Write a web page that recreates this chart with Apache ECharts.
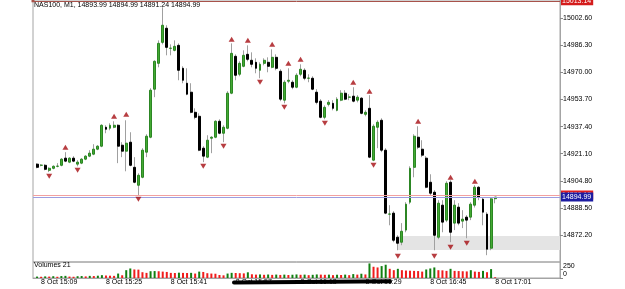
<!DOCTYPE html>
<html>
<head>
<meta charset="utf-8">
<script src="https://cdn.jsdelivr.net/npm/echarts@6/dist/echarts.min.js"></script>
<style>
  html, body { margin: 0; padding: 0; background: #fff; }
  #chart { width: 625px; height: 289px; }
</style>
</head>
<body>
<div id="chart"></div>
<script>
// NAS100 M1, 8 Oct 15:08 - 17:01
const symbol = 'NAS100';
const period = 'M1';
const day = '8 Oct';
const firstMinute = 15 * 60 + 7;   // one empty slot before the first bar
const slotCount = 131;             // bars + empty space on the right

const opens = [
  14914.8, 14914.1, 14914.1, 14911.1, 14912.3, 14913.5, 14914.1, 14918.4, 14916.0, 14918.4,
  14914.8, 14915.4, 14917.8, 14919.6, 14920.8, 14923.8, 14925.6, 14937.0, 14936.4, 14937.0,
  14938.2, 14926.2, 14922.6, 14928.0, 14912.9, 14902.1, 14906.9, 14922.0, 14931.0, 14959.9,
  14975.5, 14988.1, 14996.6, 14984.5, 14983.3, 14986.3, 14972.5, 14963.5, 14958.1, 14946.0,
  14943.6, 14924.4, 14919.0, 14930.4, 14931.0, 14940.6, 14933.4, 14936.4, 14957.5, 14979.7,
  14968.9, 14973.7, 14980.9, 14977.3, 14976.1, 14971.3, 14975.5, 14976.1, 14973.1, 14979.1,
  14970.7, 14953.3, 14964.7, 14964.1, 14961.1, 14968.9, 14971.3, 14966.5, 14966.5, 14958.1,
  14952.7, 14943.0, 14950.8, 14951.4, 14947.2, 14953.3, 14957.5, 14955.1, 14955.7, 14953.3,
  14954.5, 14944.8, 14948.4, 14917.2, 14937.0, 14941.2, 14923.2, 14884.7, 14885.3, 14870.8,
  14867.8, 14875.1, 14891.9, 14912.9, 14931.0, 14923.8, 14918.4, 14903.9, 14897.9, 14870.8,
  14890.1, 14881.1, 14903.9, 14879.3, 14888.9, 14880.5, 14882.9, 14882.9, 14890.1, 14900.9,
  14893.7, 14884.7, 14864.2, 14893.99
];
const closes = [
  14912.9, 14914.2, 14911.7, 14912.3, 14913.5, 14913.6, 14917.8, 14916.6, 14918.4, 14916.6,
  14916.0, 14917.8, 14919.6, 14921.4, 14923.8, 14925.6, 14938.2, 14935.8, 14938.2, 14938.2,
  14925.6, 14922.6, 14927.4, 14914.1, 14903.9, 14908.1, 14923.2, 14931.6, 14959.3, 14976.7,
  14987.5, 14998.4, 14985.1, 14984.6, 14985.7, 14971.3, 14965.3, 14956.9, 14946.0, 14943.0,
  14923.2, 14919.6, 14929.2, 14931.0, 14940.6, 14933.4, 14937.0, 14957.5, 14981.5, 14968.3,
  14975.5, 14980.3, 14977.9, 14974.9, 14972.5, 14974.9, 14977.3, 14973.7, 14979.1, 14972.5,
  14953.9, 14964.1, 14965.3, 14961.1, 14968.3, 14971.9, 14966.5, 14966.6, 14959.9, 14952.0,
  14943.0, 14949.0, 14952.0, 14948.4, 14953.9, 14957.5, 14953.9, 14955.2, 14952.7, 14955.1,
  14945.4, 14946.0, 14919.0, 14937.6, 14940.0, 14923.2, 14885.3, 14884.8, 14869.0, 14867.2,
  14874.4, 14890.7, 14912.3, 14931.6, 14925.0, 14920.2, 14900.9, 14897.3, 14872.0, 14891.3,
  14879.9, 14903.3, 14873.8, 14890.1, 14879.3, 14881.7, 14881.1, 14890.7, 14900.9, 14894.9,
  14885.9, 14863.6, 14893.9, 14894.99
];
const lows = [
  14912.3, 14913.5, 14911.1, 14910.0, 14911.7, 14912.9, 14913.5, 14916.0, 14915.4, 14916.0,
  14913.5, 14914.8, 14917.2, 14919.0, 14920.2, 14923.2, 14925.0, 14933.4, 14935.2, 14936.4,
  14915.4, 14919.0, 14910.5, 14913.5, 14903.3, 14896.1, 14906.3, 14919.0, 14930.4, 14955.1,
  14973.1, 14986.9, 14980.3, 14980.3, 14982.7, 14965.3, 14963.5, 14956.3, 14945.4, 14941.8,
  14922.6, 14916.0, 14918.4, 14921.4, 14930.4, 14932.8, 14928.0, 14935.8, 14956.9, 14965.3,
  14967.7, 14973.1, 14976.7, 14973.1, 14969.5, 14966.5, 14974.3, 14970.1, 14972.5, 14971.3,
  14952.7, 14951.4, 14963.5, 14959.9, 14960.5, 14967.7, 14965.3, 14964.1, 14959.3, 14950.8,
  14942.4, 14941.8, 14949.6, 14947.2, 14946.6, 14952.7, 14953.3, 14953.3, 14952.0, 14952.0,
  14944.8, 14943.6, 14918.4, 14916.6, 14924.4, 14922.0, 14884.7, 14878.0, 14867.8, 14863.0,
  14866.0, 14873.8, 14890.7, 14906.9, 14923.8, 14919.0, 14900.3, 14896.1, 14863.0, 14869.6,
  14873.8, 14879.9, 14867.8, 14875.1, 14878.0, 14876.3, 14870.2, 14881.1, 14888.7, 14893.1,
  14878.0, 14860.0, 14863.0, 14891.24
];
const highs = [
  14915.4, 14914.8, 14914.8, 14912.9, 14914.1, 14915.4, 14918.4, 14922.0, 14919.0, 14919.6,
  14917.2, 14918.4, 14920.2, 14923.2, 14926.8, 14926.2, 14938.8, 14938.2, 14939.4, 14940.6,
  14938.8, 14928.0, 14941.2, 14934.0, 14919.0, 14909.3, 14924.4, 14932.8, 14960.5, 14977.3,
  14989.3, 15009.2, 14998.4, 14986.9, 14989.3, 14987.5, 14973.7, 14972.5, 14963.5, 14948.4,
  14945.4, 14925.6, 14932.2, 14931.6, 14941.2, 14941.8, 14938.2, 14958.7, 14987.5, 14980.9,
  14976.7, 14983.3, 14986.3, 14982.1, 14978.5, 14976.1, 14978.5, 14979.1, 14983.9, 14980.9,
  14971.9, 14965.3, 14972.5, 14965.3, 14969.5, 14974.9, 14972.5, 14968.9, 14967.7, 14959.9,
  14953.9, 14950.2, 14953.3, 14953.3, 14955.1, 14959.3, 14959.3, 14956.9, 14961.1, 14956.3,
  14955.1, 14947.2, 14956.3, 14938.8, 14941.2, 14942.4, 14924.4, 14890.1, 14886.5, 14872.0,
  14879.3, 14891.9, 14913.5, 14932.8, 14937.6, 14929.2, 14919.6, 14908.7, 14899.1, 14893.1,
  14893.1, 14904.5, 14905.1, 14893.1, 14891.3, 14887.1, 14884.1, 14891.9, 14902.1, 14901.5,
  14894.9, 14885.9, 14894.9, 14894.99
];
const volumes = [
  40, 35, 45, 40, 50, 35, 55, 60, 40, 35,
  50, 55, 45, 60, 55, 65, 80, 70, 65, 60,
  125, 77, 220, 268, 240, 235, 163, 144, 191, 195,
  190, 180, 170, 144, 140, 150, 144, 140, 145, 125,
  180, 170, 135, 125, 120, 85, 75, 125, 145, 140,
  135, 130, 160, 105, 95, 100, 90, 98, 88, 96,
  86, 95, 85, 92, 100, 90, 95, 80, 90, 100,
  95, 90, 95, 80, 92, 85, 95, 80, 110, 95,
  120, 100, 410, 316, 297, 335, 373, 258, 220, 258,
  220, 210, 205, 200, 195, 180, 240, 268, 297, 220,
  215, 200, 258, 200, 195, 190, 185, 220, 180, 172,
  200, 163, 250, 21
];
// fractal markers: [bar index, price]
const fractalUp = [
  [7, 14925.0], [19, 14943.6], [22, 14944.8], [48, 14989.9], [52, 14989.3], [58, 14986.9],
  [62, 14975.5], [65, 14977.9], [78, 14964.1], [82, 14958.7], [94, 14940.6], [102, 14906.9],
  [108, 14904.5]
];
const fractalDown = [
  [3, 14907.5], [10, 14911.1], [25, 14893.7], [41, 14913.5], [46, 14925.6], [55, 14964.1],
  [61, 14949.0], [71, 14939.4], [83, 14914.1], [89, 14859.4], [98, 14859.4], [102, 14864.8],
  [106, 14867.2]
];
const topLevel = 15013.14;
const askPrice = 14896.19;
const zoneStartBar = 89;
const zonePrices = [14871.5, 14863.1];
const priceTicks = { min: 14855.9, max: 15013.6, step: 16.3 };
const tickBars = [1, 17, 33, 49, 65, 81, 97, 113];

const font = '"Liberation Sans", Arial, sans-serif';
const last = opens.length - 1;

const slots = [];
for (let k = 0; k < slotCount; k++) {
  const m = firstMinute + k;
  slots.push(Math.floor(m / 60) + ':' + String(m % 60).padStart(2, '0'));
}
const tickSlots = tickBars.map(b => b + 1);

const wickData = opens.map((o, i) => [i + 1, o, closes[i], lows[i], highs[i]]);
const bodyData = opens.map((o, i) => [i + 1, o, closes[i], Math.min(o, closes[i]), Math.max(o, closes[i])]);
const volData = volumes.map((v, i) => ({
  value: [i + 1, v],
  itemStyle: { color: (i === 0 || v > volumes[i - 1]) ? '#117f11' : '#f01c1c' }
}));

const chart = echarts.init(document.getElementById('chart'));
chart.setOption({
  animation: false,
  backgroundColor: '#fff',
  textStyle: { fontFamily: font },
  title: [
    {
      text: `${symbol}, ${period}, ${opens[last].toFixed(2)} ${highs[last].toFixed(2)} ${lows[last].toFixed(2)} ${closes[last].toFixed(2)}`,
      left: 34, top: 2, padding: 0,
      textStyle: { fontSize: 7, fontWeight: 'normal', color: '#000', fontFamily: font }
    },
    {
      text: 'Volumes ' + volumes[last],
      left: 34, top: 262, padding: 0,
      textStyle: { fontSize: 7, fontWeight: 'normal', color: '#000', fontFamily: font }
    }
  ],
  grid: [
    { left: 33, top: 0, width: 527, height: 262, show: true, borderColor: '#a4a4a4', borderWidth: 1 },
    { left: 33, top: 262, width: 527, height: 16, show: true, borderColor: '#a4a4a4', borderWidth: 1 }
  ],
  xAxis: [
    {
      type: 'category', gridIndex: 0, data: slots, boundaryGap: false,
      axisLine: { show: false }, axisTick: { show: false }, axisLabel: { show: false },
      splitLine: { show: false }
    },
    {
      type: 'category', gridIndex: 1, data: slots, boundaryGap: false,
      axisLine: { lineStyle: { color: '#a4a4a4' } },
      axisTick: { show: false },
      axisLabel: {
        interval: (idx) => tickSlots.includes(idx),
        formatter: (v) => day + ' ' + v,
        align: 'left', margin: 1, fontSize: 7, color: '#000', fontFamily: font
      },
      splitLine: { show: false }
    }
  ],
  yAxis: [
    {
      type: 'value', gridIndex: 0, position: 'right', scale: true,
      min: priceTicks.min, max: priceTicks.max, interval: priceTicks.step,
      axisLine: { show: true, lineStyle: { color: '#a4a4a4' } },
      axisTick: { show: true, length: 3, lineStyle: { color: '#888' } },
      axisLabel: {
        margin: 3, fontSize: 7, color: '#000', fontFamily: font,
        showMinLabel: false, showMaxLabel: false,
        formatter: (v) => v.toFixed(2)
      },
      splitLine: { show: false }
    },
    {
      type: 'value', gridIndex: 1, position: 'right',
      min: 0, max: 450, interval: 250,
      axisLine: { show: true, lineStyle: { color: '#a4a4a4' } },
      axisTick: { show: true, length: 3, lineStyle: { color: '#888' } },
      axisLabel: {
        margin: 3, fontSize: 7, color: '#000', fontFamily: font,
        showMaxLabel: false, verticalAlign: 'bottom'
      },
      splitLine: { show: false }
    }
  ],
  series: [
    {
      // levels and zone behind the candles
      type: 'line', xAxisIndex: 0, yAxisIndex: 0, data: [], z: 1, silent: true,
      markArea: {
        silent: true,
        itemStyle: { color: '#e4e4e4' },
        data: [[
          { xAxis: slots[zoneStartBar + 1], yAxis: zonePrices[0] },
          { xAxis: slots[slotCount - 1], yAxis: zonePrices[1] }
        ]]
      },
      markLine: {
        silent: true,
        symbol: ['none', 'none'],
        precision: 2,
        data: [
          {
            yAxis: topLevel, symbol: ['rect', 'rect'], symbolSize: 3,
            lineStyle: { color: '#a8524a', type: 'solid', width: 1 },
            label: { show: true, position: 'end', distance: 1, formatter: topLevel.toFixed(2),
              backgroundColor: '#d41c1c', color: '#fff', fontSize: 7, padding: [1, 2, 1, 1], fontFamily: font }
          },
          {
            yAxis: askPrice,
            lineStyle: { color: '#f2a0a0', type: 'solid', width: 1 },
            label: { show: true, position: 'end', distance: 1, formatter: askPrice.toFixed(2),
              backgroundColor: '#e02020', color: '#fff', fontSize: 7, padding: [1, 2, 1, 1], fontFamily: font }
          },
          {
            yAxis: closes[last],
            lineStyle: { color: '#9c9ce0', type: 'solid', width: 1 },
            label: { show: true, position: 'end', distance: 1, formatter: closes[last].toFixed(2),
              backgroundColor: '#1c1ca2', color: '#fff', fontSize: 7, padding: [1, 2, 1, 1], fontFamily: font }
          }
        ]
      }
    },
    {
      type: 'candlestick', xAxisIndex: 0, yAxisIndex: 0, z: 3,
      data: wickData, encode: { x: 0, y: [1, 2, 3, 4] },
      barWidth: 1,
      itemStyle: { color: '#a0a0a0', color0: '#a0a0a0', borderColor: '#a0a0a0', borderColor0: '#a0a0a0', borderWidth: 1 }
    },
    {
      type: 'candlestick', xAxisIndex: 0, yAxisIndex: 0, z: 4,
      data: bodyData, encode: { x: 0, y: [1, 2, 3, 4] },
      barWidth: 2.4,
      itemStyle: { color: '#43aa33', color0: '#000', borderColor: '#2c8624', borderColor0: '#000', borderWidth: 1 }
    },
    {
      type: 'scatter', xAxisIndex: 0, yAxisIndex: 0, z: 5,
      data: fractalUp.map(f => [f[0] + 1, f[1]]),
      symbol: 'triangle', symbolSize: [6, 5],
      itemStyle: { color: '#a50d12' }
    },
    {
      type: 'scatter', xAxisIndex: 0, yAxisIndex: 0, z: 5,
      data: fractalDown.map(f => [f[0] + 1, f[1]]),
      symbol: 'triangle', symbolSize: [6, 5], symbolRotate: 180,
      itemStyle: { color: '#a50d12' }
    },
    {
      type: 'bar', xAxisIndex: 1, yAxisIndex: 1,
      data: volData, barWidth: 2
    }
  ],
  graphic: [
    {
      // pen mark over the time labels
      type: 'polyline', z: 100,
      shape: { points: [[234, 282.5], [300, 282], [390, 281.2]] },
      style: { stroke: '#000', lineWidth: 4, lineCap: 'round', fill: null }
    }
  ]
});
</script>
</body>
</html>
